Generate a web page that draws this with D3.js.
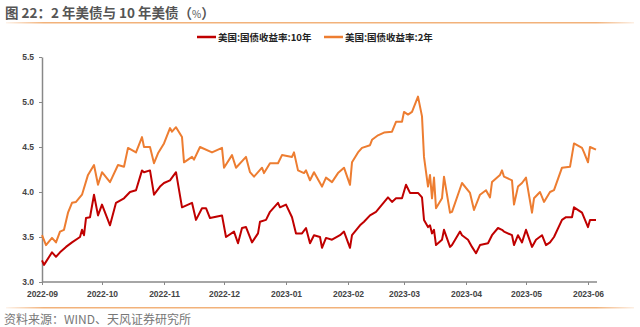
<!DOCTYPE html>
<html>
<head>
<meta charset="utf-8">
<script src="https://cdn.jsdelivr.net/npm/d3@7/dist/d3.min.js"></script>
<style>
  html, body { margin: 0; padding: 0; background: #fff; }
  svg { display: block; }
</style>
</head>
<body>
<svg id="chart" width="640" height="327"></svg>
<script>
// US Treasury yields: 10-year and 2-year (%)
const seriesNames = ["美国:国债收益率:10年", "美国:国债收益率:2年"];
const seriesColors = ["#C00000", "#ED7D31"];

const tenYearDates = [
  "2022-09-01","2022-09-02","2022-09-06","2022-09-08","2022-09-10","2022-09-13","2022-09-16","2022-09-20",
  "2022-09-21","2022-09-22","2022-09-23","2022-09-25","2022-09-27","2022-09-29","2022-10-01","2022-10-05",
  "2022-10-08","2022-10-12","2022-10-15","2022-10-18","2022-10-21","2022-10-22","2022-10-25","2022-10-27",
  "2022-10-30","2022-11-01","2022-11-04","2022-11-07","2022-11-10","2022-11-15","2022-11-17","2022-11-20",
  "2022-11-22","2022-11-24","2022-11-30","2022-12-02","2022-12-06","2022-12-08","2022-12-10","2022-12-12",
  "2022-12-15","2022-12-18","2022-12-19","2022-12-22","2022-12-24","2022-12-28","2022-12-29","2023-01-01",
  "2023-01-04","2023-01-06","2023-01-09","2023-01-11","2023-01-13","2023-01-15","2023-01-18","2023-01-19",
  "2023-01-21","2023-01-24","2023-01-28","2023-01-30","2023-02-02","2023-02-03","2023-02-07","2023-02-09",
  "2023-02-12","2023-02-15","2023-02-18","2023-02-21","2023-02-23","2023-02-25","2023-02-28","2023-03-02",
  "2023-03-04","2023-03-08","2023-03-10","2023-03-11","2023-03-13","2023-03-14","2023-03-15","2023-03-16",
  "2023-03-17","2023-03-20","2023-03-21","2023-03-24","2023-03-25","2023-03-29","2023-03-30","2023-04-02",
  "2023-04-04","2023-04-06","2023-04-08","2023-04-12","2023-04-14","2023-04-17","2023-04-19","2023-04-20",
  "2023-04-24","2023-04-25","2023-04-27","2023-04-29","2023-05-01","2023-05-04","2023-05-06","2023-05-09",
  "2023-05-11","2023-05-13","2023-05-15","2023-05-19","2023-05-21","2023-05-24","2023-05-25","2023-05-29",
  "2023-06-01","2023-06-02","2023-06-05"
];
const tenYearValues = [
  3.24,3.19,3.33,3.28,3.33,3.39,3.44,3.50,
  3.58,3.52,3.71,3.72,3.97,3.74,3.86,3.63,
  3.88,3.93,4.00,4.02,4.24,4.22,4.24,3.97,
  4.06,4.10,4.13,4.22,3.83,3.88,3.69,3.82,
  3.82,3.71,3.74,3.50,3.56,3.43,3.60,3.61,
  3.44,3.54,3.67,3.69,3.78,3.88,3.83,3.86,
  3.72,3.54,3.54,3.60,3.43,3.52,3.50,3.38,
  3.49,3.47,3.52,3.56,3.38,3.52,3.63,3.67,
  3.74,3.78,3.86,3.94,3.89,3.93,3.93,4.08,
  3.99,3.99,3.94,3.69,3.61,3.63,3.54,3.58,
  3.41,3.47,3.58,3.39,3.41,3.56,3.52,3.47,
  3.39,3.32,3.41,3.43,3.52,3.60,3.58,3.56,
  3.52,3.41,3.52,3.44,3.58,3.39,3.47,3.52,
  3.41,3.44,3.50,3.69,3.72,3.72,3.83,3.77,
  3.61,3.69,3.69
];

const twoYearDates = [
  "2022-09-01","2022-09-03","2022-09-06","2022-09-08","2022-09-10","2022-09-12","2022-09-14","2022-09-16",
  "2022-09-18","2022-09-21","2022-09-24","2022-09-27","2022-09-29","2022-10-01","2022-10-05","2022-10-09",
  "2022-10-12","2022-10-14","2022-10-18","2022-10-21","2022-10-22","2022-10-25","2022-10-27","2022-10-29",
  "2022-11-01","2022-11-04","2022-11-05","2022-11-07","2022-11-10","2022-11-11","2022-11-15","2022-11-16",
  "2022-11-19","2022-11-25","2022-11-30","2022-12-01","2022-12-05","2022-12-07","2022-12-12","2022-12-14",
  "2022-12-16","2022-12-20","2022-12-21","2022-12-24","2022-12-28","2022-12-30","2023-01-04","2023-01-05",
  "2023-01-07","2023-01-10","2023-01-11","2023-01-13","2023-01-15","2023-01-19","2023-01-21","2023-01-24",
  "2023-01-27","2023-01-30","2023-02-02","2023-02-03","2023-02-06","2023-02-08","2023-02-12","2023-02-13",
  "2023-02-16","2023-02-19","2023-02-23","2023-02-25","2023-02-28","2023-03-01","2023-03-03","2023-03-05",
  "2023-03-08","2023-03-10","2023-03-11","2023-03-13","2023-03-14","2023-03-15","2023-03-16","2023-03-17",
  "2023-03-20","2023-03-21","2023-03-24","2023-03-25","2023-03-30","2023-04-03","2023-04-05","2023-04-08",
  "2023-04-11","2023-04-13","2023-04-14","2023-04-18","2023-04-19","2023-04-20","2023-04-24","2023-04-25",
  "2023-04-27","2023-04-29","2023-05-01","2023-05-04","2023-05-05","2023-05-08","2023-05-10","2023-05-13",
  "2023-05-15","2023-05-19","2023-05-23","2023-05-25","2023-05-29","2023-05-30","2023-06-01","2023-06-02",
  "2023-06-05"
];
const twoYearValues = [
  3.52,3.41,3.49,3.44,3.56,3.58,3.77,3.88,
  3.89,3.97,4.19,4.30,4.08,4.22,4.11,4.30,
  4.28,4.49,4.44,4.61,4.50,4.50,4.32,4.43,
  4.54,4.71,4.67,4.72,4.61,4.33,4.39,4.36,
  4.50,4.44,4.49,4.27,4.41,4.27,4.39,4.22,
  4.17,4.27,4.21,4.32,4.32,4.41,4.39,4.44,
  4.24,4.21,4.24,4.13,4.22,4.06,4.16,4.11,
  4.21,4.27,4.08,4.33,4.44,4.49,4.52,4.58,
  4.63,4.66,4.67,4.78,4.78,4.89,4.86,4.89,
  5.06,4.84,4.39,4.06,4.19,3.93,4.16,3.82,
  3.93,4.17,3.77,3.78,4.10,3.99,3.80,3.97,
  4.02,3.94,4.11,4.19,4.24,4.17,4.13,3.86,
  4.06,4.10,4.16,3.77,3.93,4.00,3.89,4.00,
  4.02,4.27,4.28,4.54,4.49,4.44,4.33,4.50,
  4.47
];

const yTicks = [3.0, 3.5, 4.0, 4.5, 5.0, 5.5];
const xTickLabels = ["2022-09","2022-10","2022-11","2022-12","2023-01","2023-02","2023-03","2023-04","2023-05","2023-06"];

const titleMain = "图 22：2 年美债与 10 年美债（";
const titleUnit = "%";
const titleEnd = "）";
const sourceText = "资料来源：WIND、天风证券研究所";

const parseDay = d3.utcParse("%Y-%m-%d");
const parseMonth = d3.utcParse("%Y-%m");

const series = [
  { name: seriesNames[0], color: seriesColors[0],
    points: tenYearDates.map((d, i) => ({ date: parseDay(d), value: tenYearValues[i] })) },
  { name: seriesNames[1], color: seriesColors[1],
    points: twoYearDates.map((d, i) => ({ date: parseDay(d), value: twoYearValues[i] })) }
];

const svg = d3.select("#chart");
const cjk = "'Noto Sans CJK SC', 'Noto Sans', sans-serif";
const latin = "'Liberation Sans', Arial, sans-serif";

// Header / footer rules with a soft fade at both ends
const defs = svg.append("defs");
const grad = defs.append("linearGradient").attr("id", "rule").attr("x1", "0%").attr("x2", "100%");
grad.append("stop").attr("offset", "0%").attr("stop-color", "#F2B27A").attr("stop-opacity", 0.15);
grad.append("stop").attr("offset", "6%").attr("stop-color", "#F2B27A").attr("stop-opacity", 1);
grad.append("stop").attr("offset", "94%").attr("stop-color", "#F2B27A").attr("stop-opacity", 1);
grad.append("stop").attr("offset", "100%").attr("stop-color", "#F2B27A").attr("stop-opacity", 0.2);

const title = svg.append("text")
  .attr("x", 5).attr("y", 18)
  .attr("font-family", cjk).attr("font-weight", "bold").attr("font-size", 13.5)
  .attr("fill", "#555");
title.append("tspan").text(titleMain);
title.append("tspan").attr("font-size", 10).attr("font-weight", "normal").text(titleUnit);
title.append("tspan").text(titleEnd);
svg.append("rect").attr("x", 6).attr("y", 22).attr("width", 628).attr("height", 1.5).attr("fill", "url(#rule)");

svg.append("rect").attr("x", 6).attr("y", 307).attr("width", 628).attr("height", 1.5).attr("fill", "url(#rule)");
svg.append("text")
  .attr("x", 4).attr("y", 324)
  .attr("font-family", cjk).attr("font-size", 12)
  .attr("fill", "#777")
  .text(sourceText);

// Scales
const x = d3.scaleUtc()
  .domain([parseMonth(xTickLabels[0]), parseMonth(xTickLabels[xTickLabels.length - 1])])
  .range([42, 588]);
const y = d3.scaleLinear().domain([3.0, 5.5]).range([282, 57]);

const lastDate = d3.max(series, s => d3.max(s.points, p => p.date));

// Axes
const yAxis = svg.append("g")
  .attr("transform", "translate(42,0)")
  .call(d3.axisLeft(y).tickValues(yTicks).tickFormat(d3.format(".1f")).tickSize(3).tickSizeOuter(0).tickPadding(5));
yAxis.select(".domain").attr("stroke", "#888").attr("stroke-width", 1.5);
yAxis.selectAll(".tick line").attr("stroke", "#888");
yAxis.selectAll("text")
  .attr("font-family", latin).attr("font-weight", "bold").attr("font-size", 8.5).attr("fill", "#444");

const xAxis = svg.append("g")
  .attr("transform", "translate(0,282)")
  .call(d3.axisBottom(x).tickValues(xTickLabels.map(parseMonth)).tickFormat(d3.utcFormat("%Y-%m")).tickSize(3).tickSizeOuter(0).tickPadding(6));
xAxis.select(".domain").remove();
xAxis.insert("line", ":first-child")
  .attr("x1", x.range()[0]).attr("x2", x(lastDate) + 1)
  .attr("stroke", "#888").attr("stroke-width", 1.5);
xAxis.selectAll(".tick line").attr("stroke", "#888");
xAxis.selectAll("text")
  .attr("font-family", latin).attr("font-weight", "bold").attr("font-size", 8.5).attr("fill", "#444");

// Lines
const line = d3.line().x(d => x(d.date)).y(d => y(d.value));
svg.append("g").selectAll("path")
  .data(series.slice().reverse())
  .join("path")
  .attr("d", d => line(d.points))
  .attr("fill", "none")
  .attr("stroke", d => d.color)
  .attr("stroke-width", 2)
  .attr("stroke-linejoin", "round");

// Legend
const legendX = [197, 324];
const legend = svg.append("g").selectAll("g")
  .data(series)
  .join("g")
  .attr("transform", (d, i) => `translate(${legendX[i]},37)`);
legend.append("line")
  .attr("x1", 0).attr("x2", 19).attr("y1", 0).attr("y2", 0)
  .attr("stroke", d => d.color).attr("stroke-width", 2.5);
legend.append("text")
  .attr("x", 21).attr("y", 3.5)
  .attr("font-family", cjk).attr("font-weight", "bold").attr("font-size", 9.5)
  .attr("fill", "#222")
  .text(d => d.name);
</script>
</body>
</html>
